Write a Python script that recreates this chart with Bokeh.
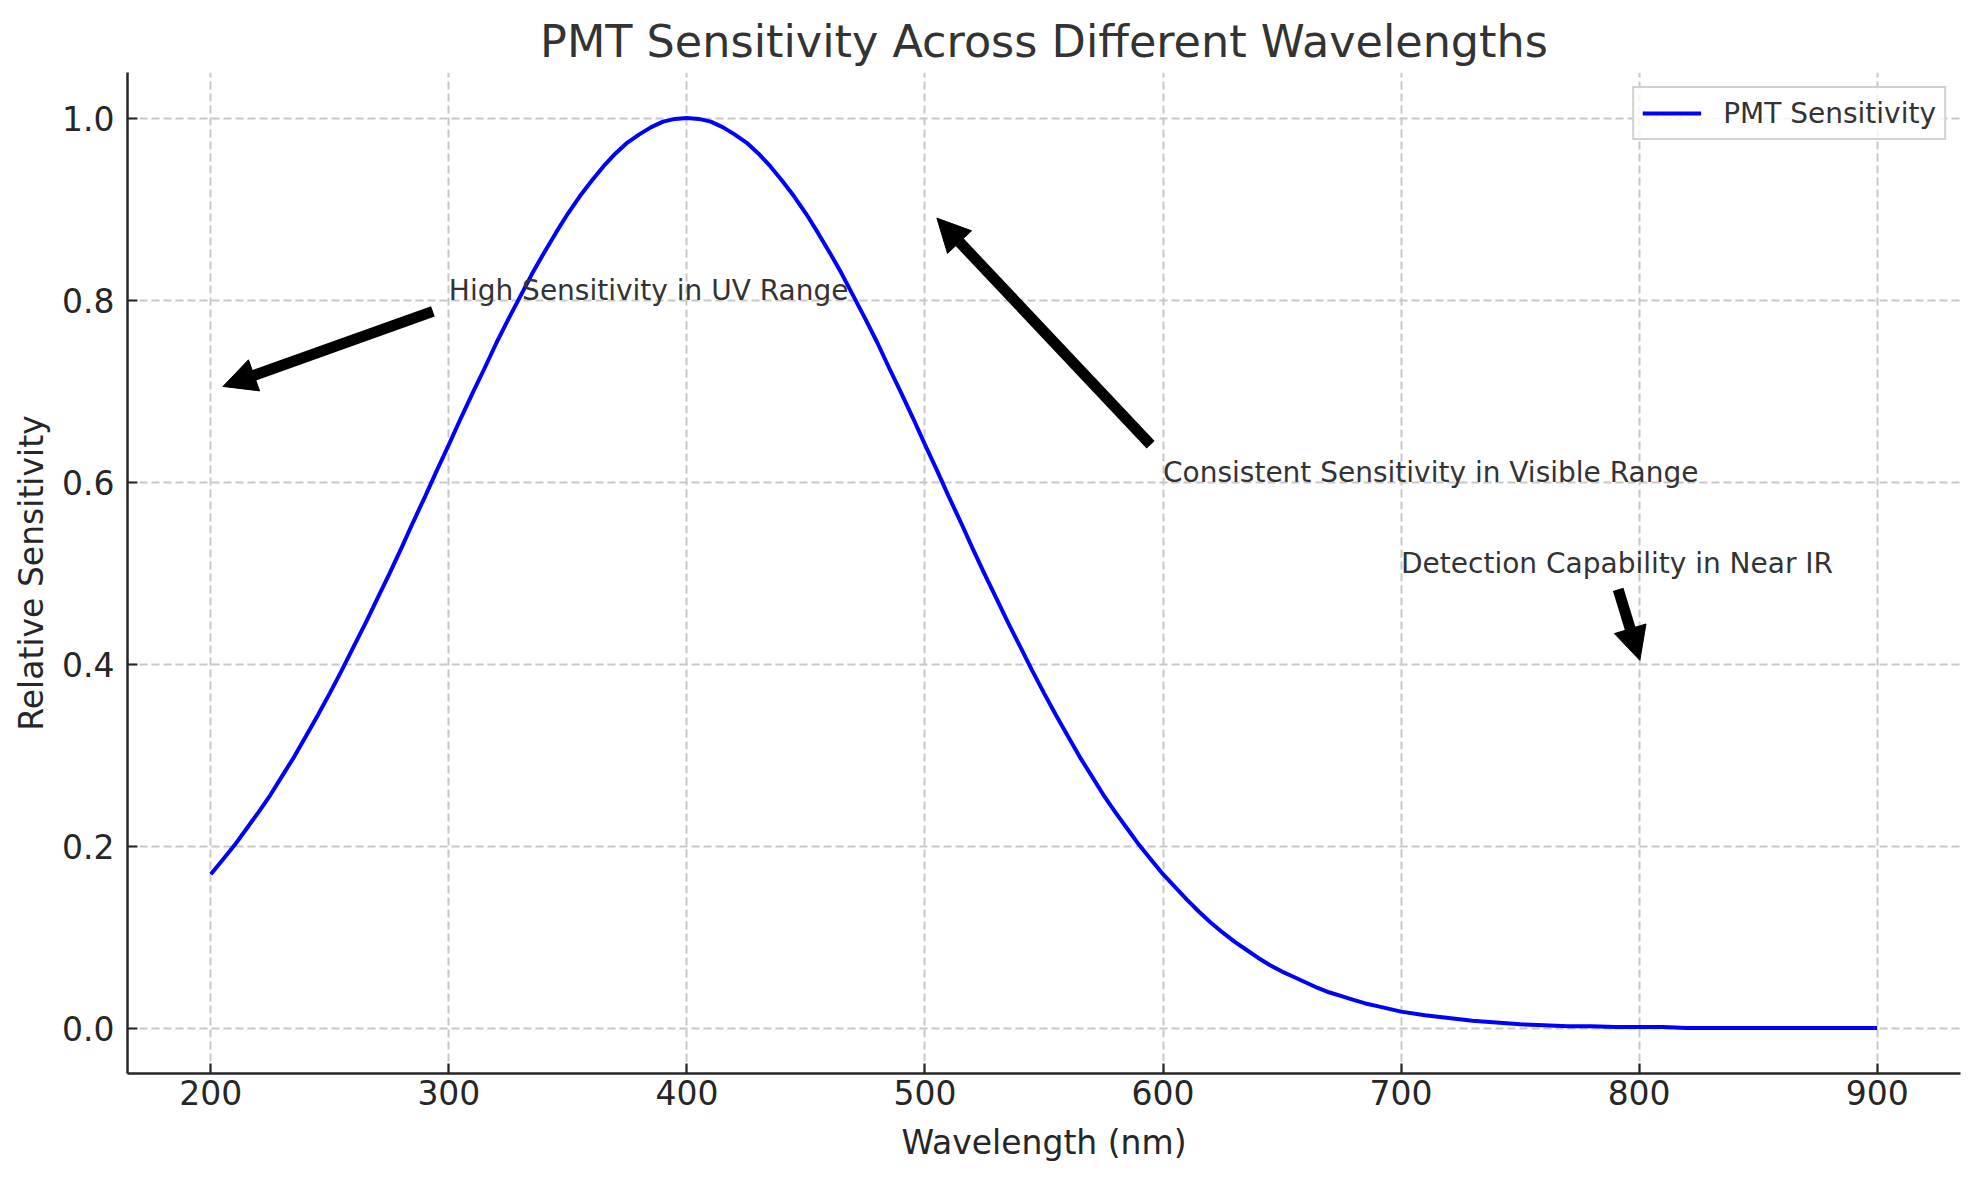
from bokeh.plotting import figure
from bokeh.models import (Range1d, FixedTicker, PrintfTickFormatter, ColumnDataSource,
                          Arrow, NormalHead, LabelSet, Legend, LegendItem)
from bokeh.core.properties import value
from bokeh.embed import file_html
from bokeh.resources import INLINE

# ---- data ----
wavelength = [200, 205, 210, 215, 220, 225, 230, 235, 240, 245,
              250, 255, 260, 265, 270, 275, 280, 285, 290, 295,
              300, 305, 310, 315, 320, 325, 330, 335, 340, 345,
              350, 355, 360, 365, 370, 375, 380, 385, 390, 395,
              400, 405, 410, 415, 420, 425, 430, 435, 440, 445,
              450, 455, 460, 465, 470, 475, 480, 485, 490, 495,
              500, 505, 510, 515, 520, 525, 530, 535, 540, 545,
              550, 555, 560, 565, 570, 575, 580, 585, 590, 595,
              600, 605, 610, 615, 620, 625, 630, 635, 640, 645,
              650, 655, 660, 665, 670, 675, 680, 685, 690, 695,
              700, 710, 720, 730, 740, 750, 760, 770, 780, 790,
              800, 810, 820, 830, 840, 850, 860, 870, 880, 890, 900]
sensitivity = [0.169, 0.185, 0.201, 0.219, 0.237, 0.256, 0.277, 0.298, 0.321, 0.344,
               0.368, 0.393, 0.419, 0.445, 0.472, 0.499, 0.527, 0.556, 0.584, 0.613,
               0.641, 0.670, 0.698, 0.725, 0.753, 0.779, 0.804, 0.829, 0.852, 0.874,
               0.895, 0.914, 0.931, 0.947, 0.961, 0.973, 0.982, 0.990, 0.996, 0.999,
               1.000, 0.999, 0.996, 0.990, 0.982, 0.973, 0.961, 0.947, 0.931, 0.914,
               0.895, 0.874, 0.852, 0.829, 0.804, 0.779, 0.753, 0.725, 0.698, 0.670,
               0.641, 0.613, 0.584, 0.556, 0.527, 0.499, 0.472, 0.445, 0.419, 0.393,
               0.368, 0.344, 0.321, 0.298, 0.277, 0.256, 0.237, 0.219, 0.201, 0.185,
               0.169, 0.155, 0.141, 0.128, 0.116, 0.105, 0.095, 0.086, 0.077, 0.069,
               0.062, 0.056, 0.050, 0.044, 0.039, 0.035, 0.031, 0.027, 0.024, 0.021,
               0.018, 0.014, 0.011, 0.008, 0.006, 0.004, 0.003, 0.002, 0.002, 0.001,
               0.001, 0.001, 0.000, 0.000, 0.000, 0.000, 0.000, 0.000, 0.000, 0.000, 0.000]

x_ticks = [200, 300, 400, 500, 600, 700, 800, 900]
y_ticks = [0.0, 0.2, 0.4, 0.6, 0.8, 1.0]

note_texts = ["High Sensitivity in UV Range",
              "Consistent Sensitivity in Visible Range",
              "Detection Capability in Near IR"]
note_x = [300, 600, 700]
note_y = [0.8, 0.6, 0.5]

arrow_x_start = [293.3, 594.8, 791.2]
arrow_y_start = [0.7875, 0.641, 0.482]
arrow_x_end = [205.1, 505.0, 800.3]
arrow_y_end = [0.705, 0.89, 0.404]

FONT = "DejaVu Sans"
TXT = "#262626"

p = figure(width=1977, height=1178, output_backend="svg", toolbar_location=None,
           x_range=Range1d(165, 935), y_range=Range1d(-0.05, 1.05),
           min_border_left=127, min_border_right=17, min_border_top=72, min_border_bottom=105,
           background_fill_color="white", border_fill_color="white")
p.outline_line_color = None

p.title.text = "PMT Sensitivity Across Different Wavelengths"
p.title.align = "center"
p.title.text_font = FONT
p.title.text_font_size = "44.5px"
p.title.text_font_style = "normal"
p.title.text_color = "#333333"
p.title.standoff = 12

for ax in (p.xaxis[0], p.yaxis[0]):
    ax.axis_line_color = TXT
    ax.axis_line_width = 2.5
    ax.major_tick_in = 10
    ax.major_tick_out = 0
    ax.major_tick_line_width = 2.2
    ax.major_tick_line_color = TXT
    ax.minor_tick_in = 0
    ax.minor_tick_out = 0
    ax.major_label_text_font = FONT
    ax.major_label_text_font_size = "33px"
    ax.major_label_text_color = TXT
    ax.axis_label_text_font = FONT
    ax.axis_label_text_font_size = "33px"
    ax.axis_label_text_font_style = "normal"
    ax.axis_label_text_color = TXT

p.xaxis.ticker = FixedTicker(ticks=x_ticks)
p.yaxis.ticker = FixedTicker(ticks=y_ticks)
p.yaxis.formatter = PrintfTickFormatter(format="%.1f")
p.xaxis.axis_label = "Wavelength (nm)"
p.yaxis.axis_label = "Relative Sensitivity"
p.xaxis.major_label_standoff = 6
p.xaxis.axis_label_standoff = 15
p.yaxis.major_label_standoff = 13
p.yaxis.axis_label_standoff = 8

for g in (p.xgrid[0], p.ygrid[0]):
    g.grid_line_color = "#c8c8c8"
    g.grid_line_width = 2
    g.grid_line_dash = "8 4"

line = p.line(wavelength, sensitivity, line_width=4, line_color="blue")

legend = Legend(items=[LegendItem(label="PMT Sensitivity", renderers=[line])],
                location="top_right", margin=14, padding=8, spacing=0,
                glyph_width=59, glyph_height=34, label_height=34, label_standoff=22,
                label_text_font=FONT, label_text_font_size="28px", label_text_color="#333333",
                border_line_color="#cccccc", border_line_width=2, border_line_alpha=0.9,
                background_fill_alpha=0.8)
p.add_layout(legend)

arrow_src = ColumnDataSource(dict(xs=arrow_x_start, ys=arrow_y_start,
                                  xe=arrow_x_end, ye=arrow_y_end))
p.add_layout(Arrow(end=NormalHead(size=33, fill_color="black", line_color="black", line_width=1),
                   x_start="xs", y_start="ys", x_end="xe", y_end="ye",
                   line_color="black", line_width=11, source=arrow_src))

note_src = ColumnDataSource(dict(x=note_x, y=note_y, t=note_texts))
p.add_layout(LabelSet(x="x", y="y", text="t", source=note_src,
                      text_font=value(FONT), text_font_size=value("28px"),
                      text_color="#333333",
                      text_align="left", text_baseline="alphabetic"))

open("out.html", "w").write(file_html(p, INLINE))
